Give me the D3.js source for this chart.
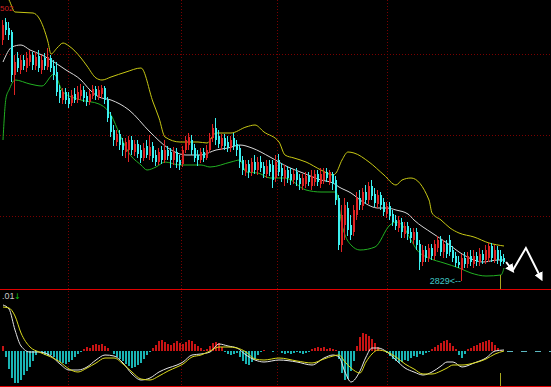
<!DOCTYPE html>
<html>
<head>
<meta charset="utf-8">
<script src="https://cdn.jsdelivr.net/npm/d3@7/dist/d3.min.js"></script>
<style>
  body { margin: 0; background: #000; }
  svg { display: block; }
</style>
</head>
<body>
<svg width="551" height="387"></svg>
<script>
// daily candles: [open, high, low, close]
var candles = [
  [3070,3090,3065,3085],[3088,3092,3075,3080],[3082,3088,3070,3075],[3078,3080,3028,3035],[3035,3055,3015,3048],
  [3052,3058,3038,3042],[3040,3055,3036,3050],[3050,3055,3040,3044],[3042,3058,3038,3052],[3048,3060,3044,3055],
  [3055,3058,3040,3045],[3044,3058,3040,3053],[3054,3060,3038,3042],[3040,3055,3036,3050],[3052,3057,3040,3044],
  [3043,3062,3040,3053],[3052,3055,3038,3042],[3044,3050,3030,3035],[3038,3048,3014,3018],[3020,3025,3007,3012],
  [3010,3022,3006,3018],[3018,3022,3006,3010],[3012,3018,3002,3006],[3007,3020,3004,3015],[3016,3022,3007,3010],
  [3010,3024,3007,3018],[3014,3026,3010,3020],[3020,3024,3008,3012],[3014,3018,3004,3008],[3008,3020,3005,3016],
  [3014,3025,3011,3021],[3021,3024,3010,3014],[3013,3024,3010,3020],[3016,3025,3012,3022],[3022,3024,3006,3010],
  [3010,3013,2988,2992],[2994,2998,2973,2978],[2980,2985,2964,2970],[2968,2980,2964,2976],[2976,2980,2960,2965],
  [2967,2972,2954,2960],[2958,2972,2952,2968],[2960,2974,2948,2970],[2970,2974,2955,2960],[2958,2970,2954,2966],
  [2966,2970,2952,2956],[2960,2965,2947,2952],[2952,2967,2949,2962],[2964,2970,2952,2955],[2954,2975,2950,2963],
  [2964,2968,2948,2952],[2955,2960,2944,2948],[2948,2962,2945,2958],[2960,2964,2946,2950],[2950,2970,2947,2960],
  [2960,2964,2950,2954],[2958,2962,2942,2950],[2950,2963,2945,2958],[2958,2962,2942,2948],[2950,2955,2940,2945],
  [2946,2964,2943,2960],[2960,2974,2957,2970],[2965,2977,2960,2973],[2970,2975,2955,2960],[2962,2966,2948,2952],
  [2955,2960,2944,2950],[2950,2962,2947,2958],[2958,2962,2948,2952],[2952,2965,2950,2960],[2960,2977,2957,2972],
  [2972,2986,2968,2982],[2982,2992,2965,2970],[2974,2980,2962,2966],[2964,2976,2960,2972],[2972,2976,2960,2964],
  [2968,2974,2958,2962],[2962,2974,2958,2970],[2972,2977,2960,2964],[2966,2970,2954,2960],[2962,2965,2942,2948],
  [2950,2954,2935,2940],[2938,2950,2934,2946],[2946,2950,2932,2938],[2938,2952,2934,2948],[2948,2955,2936,2940],
  [2940,2953,2935,2948],[2948,2954,2938,2942],[2944,2948,2932,2936],[2936,2950,2932,2944],[2946,2950,2934,2938],
  [2945,2950,2922,2930],[2932,2955,2928,2948],[2950,2956,2934,2938],[2942,2947,2928,2934],[2932,2945,2924,2940],
  [2940,2944,2927,2932],[2936,2942,2925,2930],[2930,2940,2926,2936],[2938,2942,2924,2930],[2932,2936,2920,2926],
  [2924,2936,2920,2932],[2926,2938,2922,2934],[2934,2938,2924,2928],[2924,2940,2920,2934],[2928,2940,2924,2936],
  [2936,2940,2924,2928],[2926,2942,2922,2936],[2930,2942,2926,2938],[2938,2942,2928,2932],[2928,2940,2925,2938],
  [2936,2938,2920,2926],[2930,2934,2905,2910],[2912,2915,2860,2865],[2865,2905,2858,2895],[2885,2912,2870,2905],
  [2902,2908,2874,2880],[2885,2895,2870,2875],[2878,2905,2874,2900],[2895,2918,2890,2912],[2912,2920,2900,2905],
  [2904,2922,2900,2918],[2918,2925,2906,2910],[2910,2928,2906,2924],[2924,2930,2910,2914],[2916,2922,2903,2907],
  [2906,2920,2902,2915],[2915,2918,2900,2905],[2908,2912,2894,2898],[2896,2908,2892,2904],[2904,2908,2890,2894],
  [2896,2900,2884,2888],[2890,2895,2880,2884],[2882,2894,2878,2890],[2888,2892,2872,2878],[2876,2888,2872,2884],
  [2884,2888,2870,2876],[2878,2882,2867,2872],[2870,2882,2866,2878],[2878,2882,2860,2865],[2866,2870,2840,2848],
  [2848,2865,2844,2860],[2860,2864,2848,2852],[2852,2866,2848,2862],[2862,2866,2850,2854],[2854,2870,2850,2866],
  [2862,2874,2858,2870],[2870,2874,2854,2858],[2858,2870,2852,2866],[2866,2870,2852,2856],[2870,2875,2854,2858],
  [2860,2864,2848,2852],[2854,2858,2843,2847],[2848,2854,2842,2845],[2840,2856,2829,2852],[2852,2858,2842,2846],
  [2846,2858,2842,2854],[2854,2860,2844,2848],[2846,2860,2842,2854],[2854,2858,2844,2848],[2848,2862,2844,2856],
  [2856,2860,2846,2850],[2850,2865,2846,2860],[2852,2867,2848,2864],[2864,2867,2848,2852],[2850,2865,2847,2860],
  [2860,2864,2846,2850],[2854,2860,2844,2848],[2852,2856,2846,2848]
];

// bollinger bands: [candle index, price]
var upperBand = [[0,3118],[2,3110],[4,3098],[10,3097],[12,3092],[15,3068],[16,3056],[18,3062],[20,3067],[22,3064],
  [26,3052],[28,3044],[31,3032],[33,3030],[36,3033],[41,3038],[46,3042],[50,3008],[52,2992],[54,2973],[59,2968],
  [65,2968],[68,2967],[71,2977],[76,2977],[81,2983],[84,2985],[87,2978],[92,2968],[94,2955],[97,2952],[101,2948],
  [106,2940],[110,2935],[111,2937],[113,2950],[115,2958],[117,2957],[122,2948],[127,2935],[131,2925],[133,2930],
  [136,2932],[142,2910],[143,2897],[146,2890],[149,2882],[152,2877],[157,2873],[162,2867],[167,2864]];
var midBand = [[0,3048],[3,3063],[6,3065],[9,3060],[13,3055],[17,3048],[21,3040],[26,3030],[29,3020],[32,3013],
  [36,3010],[42,3000],[49,2978],[55,2962],[61,2955],[66,2955],[71,2960],[75,2962],[79,2965],[83,2962],[89,2953],
  [95,2943],[100,2937],[106,2930],[110,2927],[112,2923],[116,2917],[120,2908],[125,2902],[128,2902],[131,2900],
  [135,2896],[137,2890],[143,2877],[148,2867],[152,2858],[157,2850],[160,2848],[165,2850],[167,2850]];
var lowerBand = [[0,2970],[1,3012],[2,3020],[4,3030],[9,3026],[13,3024],[17,3036],[20,3018],[26,3010],[32,3006],
  [36,2995],[39,2975],[42,2957],[46,2945],[48,2940],[51,2943],[54,2948],[59,2945],[66,2945],[69,2943],[76,2948],
  [79,2950],[81,2938],[85,2937],[89,2932],[94,2932],[101,2920],[106,2918],[111,2918],[113,2885],[114,2875],
  [116,2865],[119,2860],[124,2863],[129,2885],[131,2888],[133,2885],[136,2870],[138,2860],[142,2852],[147,2847],
  [152,2842],[156,2837],[161,2834],[166,2835],[167,2842]];

// MACD histogram, one value per candle
var macdHist = [5,
  -6,-18,-27,-32,-32,-29,-24,-20,-16,-10,-4,0,
  -2,-4,-5,-4,-6,-9,-11,-12,-13,-11,-9,-6,-3,-1,
  2,4,3,6,7,6,7,5,3,0,
  -3,-6,-8,-10,-13,-15,-17,-16,-14,-12,-8,-4,-1,
  3,6,10,11,9,7,6,8,10,8,7,9,11,10,7,5,3,1,
  2,5,8,9,8,4,
  -1,-3,-4,-3,-2,
  -6,-10,-13,-14,-11,-8,-4,-1,
  1,0,0,-1,0,0,
  -2,-3,-2,-3,-2,-1,-2,-3,-2,-1,
  2,3,4,3,4,2,3,2,1,
  -8,-22,-29,-28,-20,-10,
  5,14,18,17,15,12,8,4,
  1,0,
  -2,-5,-8,-10,-12,-11,-9,-10,-7,-5,-6,-3,-4,-2,-1,
  2,4,6,8,10,11,8,5,2,
  -4,-7,-3,
  2,3,5,6,8,9,10,11,9,6,3,1,
  0];

// DIF / DEA read at these candle indices
var macdIdx = [0,2,4,6,9,12,16,19,22,25,28,31,34,37,40,43,46,49,52,55,58,60,63,66,69,72,75,78,81,84,87,92,98,103,107,
  110,112,114,116,119,121,123,125,128,131,134,137,140,143,146,148,150,153,157,161,164,167];
var difValues = [46,42,21,5,-1,-1,-5,-13,-19,-19,-16,-9,-4,-5,-12,-23,-29,-27,-21,-17,-14,-11,-4,-3,-1,7,5,3,-4,-9,
  -11,-9,-11,-14,-7,-4,-6,-21,-31,-20,-6,3,3,-1,-9,-17,-21,-24,-21,-15,-11,-11,-16,-12,-7,0,1];
var deaValues = [44,43,35,18,4,-1,-6,-11,-18,-21,-17,-12,-7,-7,-13,-21,-28,-29,-25,-20,-16,-13,-6,-4,0,4,4,3,-1,-8,
  -9,-7,-10,-12,-8,-5,-4,-11,-17,-22,-11,-3,1,-1,-6,-13,-18,-23,-23,-20,-17,-14,-14,-12,-8,-3,0];

var lowIndex = 153, lowLabel = "2829<--";
var topLabel = "502", macdLabel = ".01";
var cursorIndex = 166;
// forecast arrows drawn after the last candle: [index, price]
var arrowSmall = [[167.7, 2848], [169.7, 2840]];
var arrowZig = [[170, 2840], [174.3, 2862], [179.3, 2832]];

var svg = d3.select("svg"),
    width = +svg.attr("width"),
    height = +svg.attr("height");
var mainBottom = 290, macdTop = 290, macdBottom = 386;

svg.append("rect").attr("width", width).attr("height", height).attr("fill", "#000");

var x = d3.scaleLinear().domain([0, 167]).range([3, 504]);
var y = d3.scaleLinear().domain([2820, 3110]).range([mainBottom, 0]);
var ym = d3.scaleLinear().domain([-35, 61]).range([macdBottom, macdTop]);

var defs = svg.append("defs");
defs.append("clipPath").attr("id", "clipMain").append("rect")
    .attr("x", 0).attr("y", 0).attr("width", width).attr("height", mainBottom);
defs.append("clipPath").attr("id", "clipMacd").append("rect")
    .attr("x", 0).attr("y", macdTop).attr("width", width).attr("height", macdBottom - macdTop);
defs.append("marker").attr("id", "head")
    .attr("viewBox", "0 0 10 10").attr("refX", 6).attr("refY", 5)
    .attr("markerWidth", 9).attr("markerHeight", 9).attr("markerUnits", "userSpaceOnUse")
    .attr("orient", "auto")
    .append("path").attr("d", "M0,0 L10,5 L0,10 z").attr("fill", "#fff");

// grid
var gridX = [68, 181, 277, 387];
var gridY = [54, 135, 216];
svg.selectAll(".gx").data(gridX).enter().append("line")
    .attr("x1", function (d) { return d + 0.5; }).attr("x2", function (d) { return d + 0.5; })
    .attr("y1", 0).attr("y2", height)
    .attr("stroke", "#7a0000").attr("stroke-dasharray", "1,2");
svg.selectAll(".gy").data(gridY).enter().append("line")
    .attr("x1", 0).attr("x2", width)
    .attr("y1", function (d) { return d + 0.5; }).attr("y2", function (d) { return d + 0.5; })
    .attr("stroke", "#7a0000").attr("stroke-dasharray", "1,2");
svg.append("line").attr("x1", 0).attr("x2", width).attr("y1", mainBottom - 0.5).attr("y2", mainBottom - 0.5)
    .attr("stroke", "#e00000");
svg.append("line").attr("x1", 0).attr("x2", width).attr("y1", macdBottom + 0.5).attr("y2", macdBottom + 0.5)
    .attr("stroke", "#e00000");

var main = svg.append("g").attr("clip-path", "url(#clipMain)");

var band = d3.line()
    .x(function (d) { return x(d[0]); })
    .y(function (d) { return y(d[1]); })
    .curve(d3.curveMonotoneX);
main.append("path").attr("d", band(upperBand)).attr("fill", "none").attr("stroke", "#c8c814");
main.append("path").attr("d", band(midBand)).attr("fill", "none").attr("stroke", "#d8d8d8");
main.append("path").attr("d", band(lowerBand)).attr("fill", "none").attr("stroke", "#22b022");

var upColor = "#e02424", downColor = "#3cf0f0";
var k = main.selectAll(".candle").data(candles).enter().append("g")
    .attr("shape-rendering", "crispEdges");
k.append("line")
    .attr("x1", function (d, i) { return x(i) - 0.5; })
    .attr("x2", function (d, i) { return x(i) - 0.5; })
    .attr("y1", function (d) { return y(d[1]); })
    .attr("y2", function (d) { return y(d[2]); })
    .attr("stroke", function (d) { return d[3] >= d[0] ? upColor : downColor; });
k.append("rect")
    .attr("x", function (d, i) { return x(i) - 1; })
    .attr("width", 2)
    .attr("y", function (d) { return y(Math.max(d[0], d[3])); })
    .attr("height", function (d) { return Math.max(1, Math.abs(y(d[0]) - y(d[3]))); })
    .attr("fill", function (d) { return d[3] >= d[0] ? upColor : downColor; });

// cursor line
svg.append("line")
    .attr("x1", x(cursorIndex) - 0.5).attr("x2", x(cursorIndex) - 0.5)
    .attr("y1", y(2835)).attr("y2", mainBottom - 1)
    .attr("stroke", "#a8a820");
svg.append("line")
    .attr("x1", x(cursorIndex) - 0.5).attr("x2", x(cursorIndex) - 0.5)
    .attr("y1", ym(-22)).attr("y2", macdBottom)
    .attr("stroke", "#a8a820");

// low label
svg.append("text")
    .attr("x", x(lowIndex) - 1).attr("y", y(candles[lowIndex][2]) + 3)
    .attr("text-anchor", "end")
    .attr("font-family", "Liberation Sans, Arial, sans-serif").attr("font-size", "9px")
    .attr("fill", "#40c8c8")
    .text(lowLabel);

svg.append("text")
    .attr("x", 0).attr("y", 11)
    .attr("font-family", "Liberation Sans, Arial, sans-serif").attr("font-size", "8px")
    .attr("fill", "#d02020")
    .text(topLabel);

// arrows
var arrowLine = d3.line()
    .x(function (d) { return x(d[0]); })
    .y(function (d) { return y(d[1]); });
svg.append("path").attr("d", arrowLine(arrowSmall))
    .attr("fill", "none").attr("stroke", "#fff").attr("stroke-width", 2)
    .attr("marker-end", "url(#head)");
svg.append("path").attr("d", arrowLine(arrowZig))
    .attr("fill", "none").attr("stroke", "#fff").attr("stroke-width", 2)
    .attr("stroke-linejoin", "miter")
    .attr("marker-end", "url(#head)");

// MACD panel
var macd = svg.append("g").attr("clip-path", "url(#clipMacd)");
macd.selectAll(".bar").data(macdHist).enter().append("rect")
    .attr("shape-rendering", "crispEdges")
    .attr("x", function (d, i) { return x(i) - 1; })
    .attr("width", 2)
    .attr("y", function (d) { return ym(Math.max(d, 0)); })
    .attr("height", function (d) { return Math.abs(ym(d) - ym(0)); })
    .attr("fill", function (d) { return d >= 0 ? "#c81414" : "#1ab4b4"; });

macd.append("line")
    .attr("x1", x(167) + 3).attr("x2", width)
    .attr("y1", ym(0) + 0.5).attr("y2", ym(0) + 0.5)
    .attr("stroke", "#5cb8c0").attr("stroke-dasharray", "6,8");

var macdLine = d3.line()
    .x(function (d) { return x(d[0]); })
    .y(function (d) { return ym(d[1]); })
    .curve(d3.curveMonotoneX);
macd.append("path").attr("d", macdLine(d3.zip(macdIdx, difValues)))
    .attr("fill", "none").attr("stroke", "#e6e6e6");
macd.append("path").attr("d", macdLine(d3.zip(macdIdx, deaValues)))
    .attr("fill", "none").attr("stroke", "#dcdc1e");

svg.append("text")
    .attr("x", 2).attr("y", 299)
    .attr("font-family", "Liberation Sans, Arial, sans-serif").attr("font-size", "9px")
    .attr("fill", "#c8c8c8")
    .text(macdLabel);
svg.append("text")
    .attr("x", 14).attr("y", 299)
    .attr("font-family", "DejaVu Sans, sans-serif").attr("font-size", "8px")
    .attr("fill", "#10c010")
    .text("↓");
</script>
</body>
</html>
